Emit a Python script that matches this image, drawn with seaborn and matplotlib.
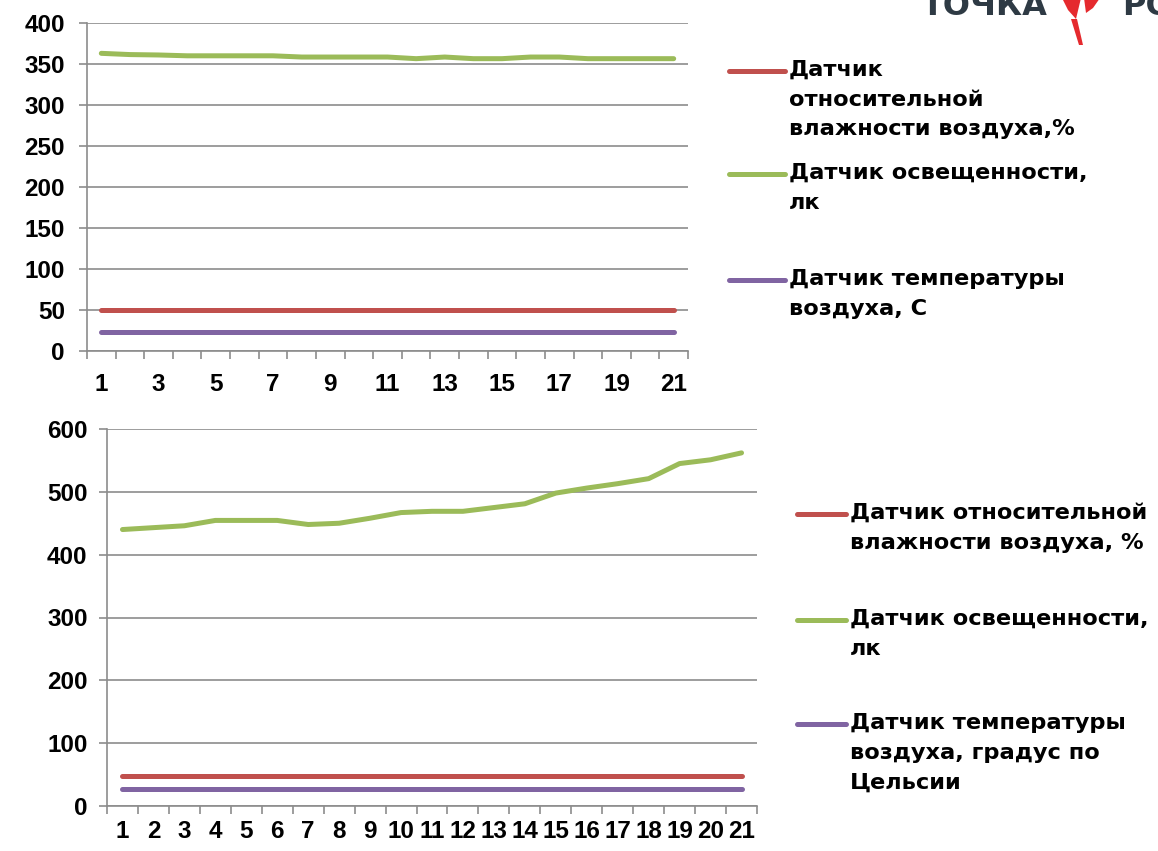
import matplotlib
matplotlib.use("Agg")
import matplotlib.pyplot as plt
import seaborn as sns
import pandas as pd
import numpy as np
from matplotlib.lines import Line2D
from matplotlib.patches import Polygon
from matplotlib.ticker import FixedLocator, MultipleLocator

# ---- data -------------------------------------------------------------
days = list(range(1, 22))

top_humidity = [50, 50, 50, 50, 50, 50, 50, 50, 50, 50, 50,
                50, 50, 50, 50, 50, 50, 50, 50, 50, 50]
top_light = [363, 361.5, 361, 360, 360, 360, 360, 358.5, 358.5, 358.5, 358.5,
             356.5, 358.5, 356.5, 356.5, 358.5, 358.5, 356.5, 356.5, 356.5, 356.5]
top_temp = [23, 23, 23, 23, 23, 23, 23, 23, 23, 23, 23,
            23, 23, 23, 23, 23, 23, 23, 23, 23, 23]

bottom_humidity = [47, 47, 47, 47, 47, 47, 47, 47, 47, 47, 47,
                   47, 47, 47, 47, 47, 47, 47, 47, 47, 47]
bottom_light = [440, 443, 446, 454.5, 454.5, 454.5, 448, 450, 458, 467, 469,
                469, 475, 481, 498, 506, 513, 521, 545, 551, 562]
bottom_temp = [27, 27, 27, 27, 27, 27, 27, 27, 27, 27, 27,
               27, 27, 27, 27, 27, 27, 27, 27, 27, 27]

top_series = ["Датчик\nотносительной\nвлажности воздуха,%",
              "Датчик освещенности,\nлк",
              "Датчик температуры\nвоздуха, С"]
bottom_series = ["Датчик относительной\nвлажности воздуха, %",
                 "Датчик освещенности,\nлк",
                 "Датчик температуры\nвоздуха, градус по\nЦельсии"]

top_xticks = [1, 3, 5, 7, 9, 11, 13, 15, 17, 19, 21]
bottom_xticks = days

# ---- style ------------------------------------------------------------
sns.set_style("white")
plt.rcParams["font.family"] = ["Liberation Sans", "DejaVu Sans"]
plt.rcParams["font.weight"] = "bold"

RED, GREEN, PURPLE = "#C0504D", "#9BBB59", "#8064A2"
GRID = "#8C8C8C"
W, H = 1158, 851
TICK_FS = 17.5
LEG_FS = 16.2
LEG_FONT = ["DejaVu Sans"]


def fx(px):
    return px / W


def fy(py):
    return 1 - py / H


def long_frame(names, values):
    rows = []
    for name, vals in zip(names, values):
        for d, v in zip(days, vals):
            rows.append({"day": d, "value": v, "series": name})
    return pd.DataFrame(rows)


def style_axes(ax, ymax, ystep, xticks, xpad, ypad):
    ax.set_xlim(0.5, 21.5)
    ax.set_ylim(0, ymax)
    ax.yaxis.set_major_locator(MultipleLocator(ystep))
    ax.xaxis.set_major_locator(FixedLocator(xticks))
    ax.set_xticklabels([str(t) for t in xticks])
    ax.xaxis.set_minor_locator(FixedLocator(np.arange(0.5, 22.0, 1.0)))
    ax.grid(axis="y", color=GRID, linewidth=1.2)
    ax.grid(axis="x", visible=False)
    ax.set_axisbelow(True)
    for s in ("top", "right"):
        ax.spines[s].set_visible(False)
    for s in ("left", "bottom"):
        ax.spines[s].set_color(GRID)
        ax.spines[s].set_linewidth(1.2)
    ax.tick_params(axis="y", which="major", length=6, width=1.2, color=GRID,
                   direction="out", pad=ypad, labelsize=TICK_FS, left=True,
                   labelcolor="black")
    ax.tick_params(axis="x", which="major", length=0, pad=xpad,
                   labelsize=TICK_FS, bottom=True, labelcolor="black")
    ax.tick_params(axis="x", which="minor", length=6, width=1.2, color=GRID,
                   direction="out", bottom=True)
    for lab in ax.get_xticklabels() + ax.get_yticklabels():
        lab.set_fontweight("bold")
    ax.set_xlabel("")
    ax.set_ylabel("")


fig = plt.figure(figsize=(W / 100, H / 100), dpi=100)

# ---- top chart --------------------------------------------------------
ax1 = fig.add_axes([fx(87), fy(351), fx(688 - 87), (351 - 23) / H])
df1 = long_frame(top_series, [top_humidity, top_light, top_temp])
sns.lineplot(data=df1, x="day", y="value", hue="series",
             palette=[RED, GREEN, PURPLE], hue_order=top_series,
             ax=ax1, legend=False, linewidth=3.6, solid_capstyle="round")
style_axes(ax1, 400, 50, top_xticks, xpad=16, ypad=10)

# ---- bottom chart -----------------------------------------------------
ax2 = fig.add_axes([fx(107), fy(806), fx(757 - 107), (806 - 429) / H])
df2 = long_frame(bottom_series, [bottom_humidity, bottom_light, bottom_temp])
sns.lineplot(data=df2, x="day", y="value", hue="series",
             palette=[RED, GREEN, PURPLE], hue_order=bottom_series,
             ax=ax2, legend=False, linewidth=3.6, solid_capstyle="round")
style_axes(ax2, 600, 100, bottom_xticks, xpad=10, ypad=8)


# ---- legends ----------------------------------------------------------
def legend_block(x0, x1, tx, ys, names, colors):
    for y, name, c in zip(ys, names, colors):
        fig.add_artist(Line2D([fx(x0), fx(x1)], [fy(y), fy(y)],
                              transform=fig.transFigure, color=c,
                              linewidth=3.6, solid_capstyle="round"))
        fig.text(fx(tx), fy(y - 11), name, ha="left", va="top",
                 fontsize=LEG_FS, fontweight="bold", color="black",
                 family=LEG_FONT, linespacing=1.6)


legend_block(729, 785, 789, [71, 174, 280], top_series, [RED, GREEN, PURPLE])
legend_block(797, 846, 850, [514, 620, 724], bottom_series, [RED, GREEN, PURPLE])

# ---- emblem in the corner ---------------------------------------------
fig.text(fx(922), fy(15), "ТОЧКА", ha="left", va="baseline",
         fontsize=23, fontweight="bold", color="#2E3A44", family=["DejaVu Sans"])
fig.text(fx(1122), fy(15), "РОСТА", ha="left", va="baseline",
         fontsize=23, fontweight="bold", color="#2E3A44", family=["DejaVu Sans"])
emblem = [
    [(1062, -2), (1081, -2), (1076, 19), (1068, 10)],
    [(1084, -2), (1100, -2), (1093, 8), (1086, 13)],
    [(1071, 19), (1077, 19), (1083, 45), (1079, 45)],
]
for poly in emblem:
    fig.add_artist(Polygon([(fx(a), fy(b)) for a, b in poly], closed=True,
                           transform=fig.transFigure, facecolor="#E52A2E",
                           edgecolor="none"))

fig.savefig("out.png", dpi=100)
